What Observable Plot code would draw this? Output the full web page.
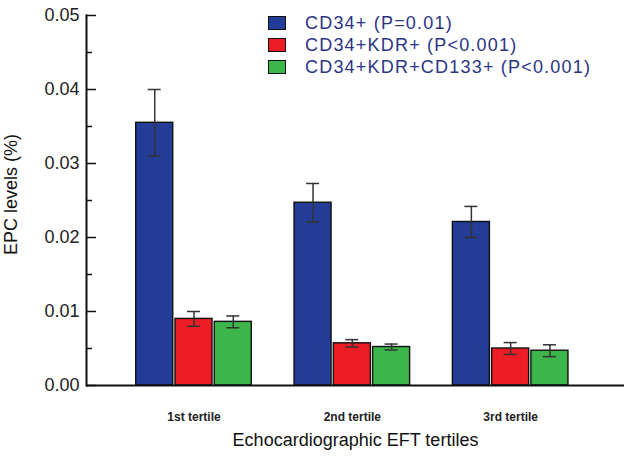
<!DOCTYPE html>
<html><head><meta charset="utf-8">
<script src="https://cdn.jsdelivr.net/npm/d3@7"></script>
<script src="https://cdn.jsdelivr.net/npm/@observablehq/plot@0.6"></script>
<style>
body{margin:0;background:#fff;font-family:"Liberation Sans",Arial,sans-serif;}
#wrap{position:relative;width:630px;height:457px;overflow:hidden;}
#legend{position:absolute;left:268px;top:12px;font-size:18px;letter-spacing:1.2px;color:#2b3585;line-height:22px;}
#legend .row{display:flex;align-items:center;white-space:nowrap;}
#legend .sw{width:18px;height:14px;border:1.5px solid #111;box-sizing:border-box;margin-right:19px;}
</style></head>
<body><div id="wrap"><div id="legend"></div></div>
<script>
const tertiles = ["1st tertile", "2nd tertile", "3rd tertile"];
const series = ["CD34+", "CD34+KDR+", "CD34+KDR+CD133+"];
const legendLabels = ["CD34+ (P=0.01)", "CD34+KDR+ (P<0.001)", "CD34+KDR+CD133+ (P<0.001)"];
const cd34 = [0.0355, 0.0247, 0.0221];
const cd34Err = [0.0045, 0.0026, 0.0021];
const cd34kdr = [0.0090, 0.0057, 0.0050];
const cd34kdrErr = [0.0010, 0.0005, 0.0008];
const cd34kdr133 = [0.0086, 0.0052, 0.0047];
const cd34kdr133Err = [0.0008, 0.0004, 0.0008];
const yTicks = [0, 0.01, 0.02, 0.03, 0.04, 0.05];
const yMinor = [0.005, 0.015, 0.025, 0.035, 0.045];
const xTitle = "Echocardiographic EFT tertiles";
const yTitle = "EPC levels (%)";
const colors = ["#233c96", "#ec1d25", "#3cb54a"];

const W = 630, H = 457, mL = 86, mR = 6, mT = 15, mB = 72;
const pInner = 0.27, pOuter = 0.334, align = 0.47;
const bw = d3.scaleBand().domain(tertiles).range([mL, W - mR])
  .paddingInner(pInner).paddingOuter(pOuter).align(align).bandwidth();
const gap = 2.25;
const barW = (bw - 2 * gap) / 3;
const capW = 13;

const values = [cd34, cd34kdr, cd34kdr133];
const errs = [cd34Err, cd34kdrErr, cd34kdr133Err];

const marks = [];
series.forEach((s, i) => {
  const data = tertiles.map((t, j) => ({tertile: t, series: s, value: values[i][j], lo: values[i][j] - errs[i][j], hi: values[i][j] + errs[i][j]}));
  const left = i * (barW + gap);
  const center = left + barW / 2;
  marks.push(Plot.barY(data, {x: "tertile", y: "value", fill: colors[i], stroke: "#111", strokeWidth: 1.4,
    insetLeft: left, insetRight: bw - left - barW}));
  marks.push(Plot.ruleX(data, {x: "tertile", y1: "lo", y2: "hi", dx: center - bw / 2, stroke: "#333", strokeWidth: 1.5}));
  for (const k of ["lo", "hi"]) {
    marks.push(Plot.tickY(data, {x: "tertile", y: k, stroke: "#333", strokeWidth: 1.5,
      insetLeft: center - capW / 2, insetRight: bw - center - capW / 2}));
  }
});

const chart = Plot.plot({
  width: W, height: H,
  marginLeft: mL, marginRight: mR, marginTop: mT, marginBottom: mB,
  style: {fontFamily: "Liberation Sans, Arial, sans-serif", background: "#fff", overflow: "visible"},
  x: {type: "band", domain: tertiles, paddingInner: pInner, paddingOuter: pOuter, align: align, round: false},
  y: {domain: [0, 0.05], round: false},
  marks: [
    ...marks,
    Plot.ruleY([0], {stroke: "#111", strokeWidth: 2}),
    Plot.frame({anchor: "left", stroke: "#111", strokeWidth: 2}),
    Plot.axisY({ticks: yMinor, tickSize: -6, tickFormat: () => "", label: null, stroke: "#111", strokeWidth: 1.5}),
    Plot.axisY({ticks: yTicks, tickSize: -10, tickPadding: 17, tickFormat: d3.format(".2f"), fontSize: 18, fill: "#222",
      stroke: "#111", strokeWidth: 1.5, label: null, style: {letterSpacing: "1.3px"}}),
    Plot.axisX({tickSize: 0, tickPadding: 27, fontSize: 12, fontWeight: "bold", fill: "#222", label: null}),
    Plot.text([xTitle], {frameAnchor: "bottom", dy: 60, fontSize: 18, fill: "#111", text: d => d, style: {letterSpacing: "0.4px"}}),
    Plot.text([yTitle], {frameAnchor: "left", textAnchor: "middle", dx: -75, dy: -6, rotate: -90, fontSize: 18, fill: "#111", text: d => d, style: {letterSpacing: "0.6px"}})
  ]
});
document.getElementById("wrap").prepend(chart);

const lg = document.getElementById("legend");
legendLabels.forEach((l, i) => {
  const row = document.createElement("div");
  row.className = "row";
  const sw = document.createElement("span");
  sw.className = "sw";
  sw.style.background = colors[i];
  const tx = document.createElement("span");
  tx.textContent = l;
  row.append(sw, tx);
  lg.append(row);
});
</script>
</body></html>
